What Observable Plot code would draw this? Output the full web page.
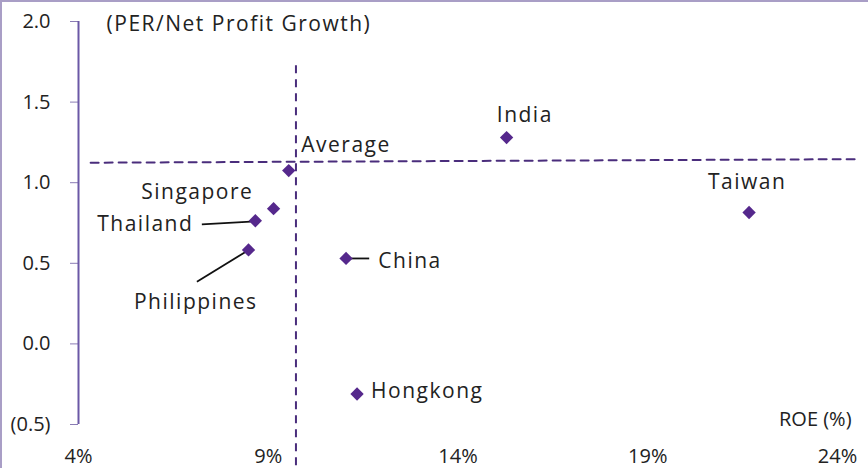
<!DOCTYPE html>
<html>
<head>
<meta charset="utf-8">
<script src="https://cdn.jsdelivr.net/npm/d3@7"></script>
<script src="https://cdn.jsdelivr.net/npm/@observablehq/plot@0.6"></script>
<style>
  html, body { margin: 0; padding: 0; background: #fff; }
  #chart { width: 866px; height: 466px; border-top: 2px solid #a99ec6; border-left: 2px solid #a99ec6; overflow: hidden; }
  svg { font-family: "Open Sans", sans-serif; display: block; }
</style>
</head>
<body>
<div id="chart"></div>
<script>
// Markets and values (ROE %, PER / net profit growth)
const markets = ["India", "Taiwan", "", "Singapore", "Thailand", "Philippines", "China", "Hongkong"];
const roe     = [15.28, 21.67, 9.54, 9.14, 8.66, 8.48, 11.05, 11.34];
const peg     = [1.28, 0.815, 1.075, 0.839, 0.764, 0.583, 0.530, -0.311];

// Label placements (data units)
const labelText   = ["India", "Taiwan", "Singapore", "Thailand", "Philippines", "China", "Hongkong", "Average"];
const labelX      = [15.76, 21.62, 7.13, 5.76, 7.09, 11.90, 11.71, 9.87];
const labelY      = [1.42, 1.00, 0.94, 0.741, 0.261, 0.510, -0.294, 1.233];
const labelAnchor = ["middle", "middle", "middle", "middle", "middle", "start", "start", "start"];

// Leader lines
const leaderX1 = [7.25, 7.12, 11.05];
const leaderY1 = [0.741, 0.385, 0.53];
const leaderX2 = [8.54, 8.41, 11.66];
const leaderY2 = [0.759, 0.572, 0.53];

// Average crosshair
const avgRoe = 9.73;
const avgVertY = [1.726, -0.79];
const avgHorizX = [4.32, 24.53];
const avgHorizY = [1.124, 1.146];

// Axes
const xTicks = [4, 9, 14, 19, 24];
const yTicks = [-0.5, 0, 0.5, 1.0, 1.5, 2.0];
const yTitle = "(PER/Net Profit Growth)";
const xTitle = "ROE (%)";

const points = markets.map((m, i) => ({market: m, roe: roe[i], peg: peg[i]}));
const labels = labelText.map((t, i) => ({text: t, x: labelX[i], y: labelY[i], anchor: labelAnchor[i]}));
const leaders = leaderX1.map((x1, i) => ({x1, y1: leaderY1[i], x2: leaderX2[i], y2: leaderY2[i]}));

const purple = "#55288c";
const dash = "#4a2d7c";
const textCol = "#222";

const chart = Plot.plot({
  width: 866,
  height: 466,
  marginLeft: 76,
  marginRight: 31,
  marginTop: 19,
  marginBottom: 44,
  style: {fontSize: "20px", fontFamily: "'Open Sans', sans-serif", color: textCol, background: "#fff"},
  x: {domain: [4, 24], ticks: xTicks, tickFormat: d => d + "%"},
  y: {domain: [-0.5, 2.0], ticks: yTicks, tickFormat: d => d < 0 ? `(${Math.abs(d).toFixed(1)})` : d.toFixed(1)},
  marks: [
    Plot.axisX({ticks: xTicks, tickSize: 0, tickPadding: 24, label: null, fontSize: 20, fill: textCol, tickFormat: d => d + "%"}),
    Plot.axisY({ticks: yTicks, tickSize: 8, tickPadding: 20, label: null, fontSize: 20, fill: textCol, stroke: "#8a7cb4",
      tickFormat: d => d < 0 ? `(${Math.abs(d).toFixed(1)})` : d.toFixed(1)}),
    Plot.ruleX([4], {y1: -0.5, y2: 2.0, stroke: "#6b58a6", strokeWidth: 2}),
    // average crosshair
    Plot.ruleX([avgRoe], {y1: avgVertY[0], y2: avgVertY[1], stroke: dash, strokeWidth: 2, strokeDasharray: "8,6"}),
    Plot.line(avgHorizX.map((x, i) => ({x, y: avgHorizY[i]})), {x: "x", y: "y", stroke: dash, strokeWidth: 2, strokeDasharray: "8,6"}),
    // leader lines
    Plot.link(leaders, {x1: "x1", y1: "y1", x2: "x2", y2: "y2", stroke: "#111", strokeWidth: 1.8}),
    // points
    Plot.dot(points, {x: "roe", y: "peg", symbol: "diamond2", r: 6, fill: purple, stroke: "none"}),
    // labels
    Plot.text(labels.filter(d => d.anchor === "middle"), {x: "x", y: "y", text: "text", textAnchor: "middle", fontSize: 21, fill: textCol}),
    Plot.text(labels.filter(d => d.anchor === "start"), {x: "x", y: "y", text: "text", textAnchor: "start", fontSize: 21, fill: textCol}),
    Plot.text([yTitle], {x: 4.74, y: 1.98, text: d => d, textAnchor: "start", fontSize: 21, fill: textCol}),
    Plot.text([xTitle], {x: 24.37, y: -0.469, text: d => d, textAnchor: "end", fontSize: 20, fill: textCol})
  ]
});
d3.select(chart).selectAll('g[aria-label="text"] text')
  .filter(function() { return this.textContent !== xTitle; })
  .attr("letter-spacing", "1.5px");
document.getElementById("chart").appendChild(chart);
</script>
</body>
</html>
